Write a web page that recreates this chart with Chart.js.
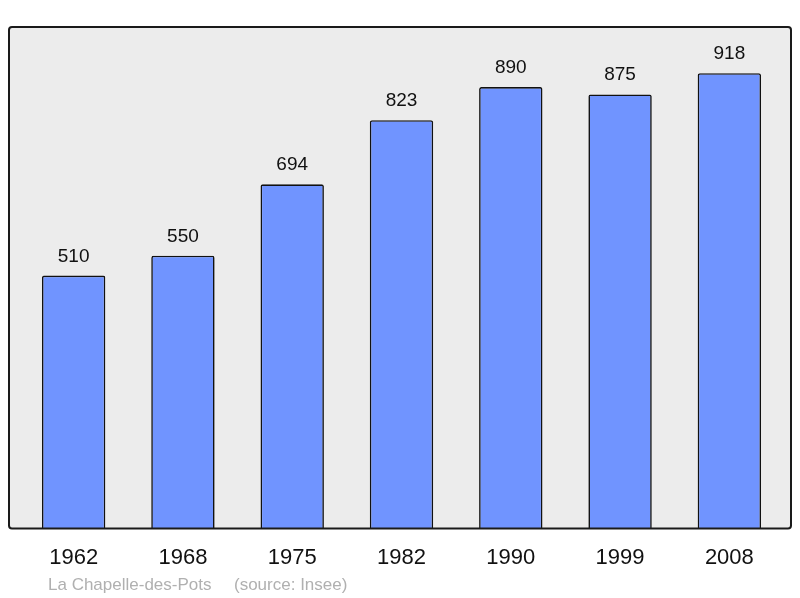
<!DOCTYPE html>
<html>
<head>
<meta charset="utf-8">
<script src="https://cdn.jsdelivr.net/npm/chart.js@4/dist/chart.umd.min.js"></script>
<style>
  html, body { margin: 0; padding: 0; background: #fff; }
  #wrap { width: 800px; height: 598px; position: relative; }
</style>
</head>
<body>
<div id="wrap"><canvas id="chart"></canvas></div>
<script>
const years = ['1962', '1968', '1975', '1982', '1990', '1999', '2008'];
const population = [510, 550, 694, 823, 890, 875, 918];
const yMax = 1011;
const footerName = 'La Chapelle-des-Pots';
const footerSource = '(source: Insee)';

const fontFamily = "'Liberation Sans', Arial, sans-serif";

// fond gris + cadre autour de la zone du graphique
const framePlugin = {
  id: 'frame',
  beforeDraw(chart) {
    const { ctx, chartArea } = chart;
    const x0 = chartArea.left - 10, x1 = chartArea.right + 7;
    const y0 = chartArea.top, y1 = chartArea.bottom;
    ctx.save();
    ctx.beginPath();
    ctx.roundRect(x0, y0, x1 - x0, y1 - y0, 3);
    ctx.fillStyle = '#ececec';
    ctx.fill();
    ctx.restore();
  },
  afterDatasetsDraw(chart) {
    const { ctx, chartArea } = chart;
    const x0 = chartArea.left - 10, x1 = chartArea.right + 7;
    const y0 = chartArea.top, y1 = chartArea.bottom;
    ctx.save();
    ctx.beginPath();
    ctx.roundRect(x0, y0, x1 - x0, y1 - y0, 3);
    ctx.lineWidth = 2;
    ctx.strokeStyle = '#1a1a1a';
    ctx.stroke();

    // valeurs au-dessus des barres
    const meta = chart.getDatasetMeta(0);
    ctx.fillStyle = '#111';
    ctx.font = '19px ' + fontFamily;
    ctx.textAlign = 'center';
    ctx.textBaseline = 'alphabetic';
    meta.data.forEach((bar, i) => {
      ctx.fillText(String(population[i]), bar.x, bar.y - 14);
    });

    // pied de page
    ctx.fillStyle = '#b0b0b0';
    ctx.font = '17px ' + fontFamily;
    ctx.textAlign = 'left';
    ctx.fillText(footerName, 48, 590);
    ctx.fillText(footerSource, 234, 590);
    ctx.restore();
  }
};

new Chart(document.getElementById('chart'), {
  type: 'bar',
  data: {
    labels: years,
    datasets: [{
      data: population,
      backgroundColor: '#7094ff',
      borderColor: '#111',
      borderWidth: 1.6,
      borderRadius: 2,
      borderSkipped: 'bottom',
      barPercentage: 0.58,
      categoryPercentage: 1.0,
    }]
  },
  options: {
    responsive: true,
    maintainAspectRatio: false,
    animation: false,
    layout: { padding: { left: 19, right: 16, top: 27, bottom: 19 } },
    plugins: { legend: { display: false }, tooltip: { enabled: false } },
    scales: {
      x: {
        grid: { display: false },
        border: { display: false },
        ticks: { color: '#111', font: { family: fontFamily, size: 22 }, padding: 8, maxRotation: 0 }
      },
      y: { display: false, min: 0, max: yMax }
    }
  },
  plugins: [framePlugin]
});
</script>
</body>
</html>
